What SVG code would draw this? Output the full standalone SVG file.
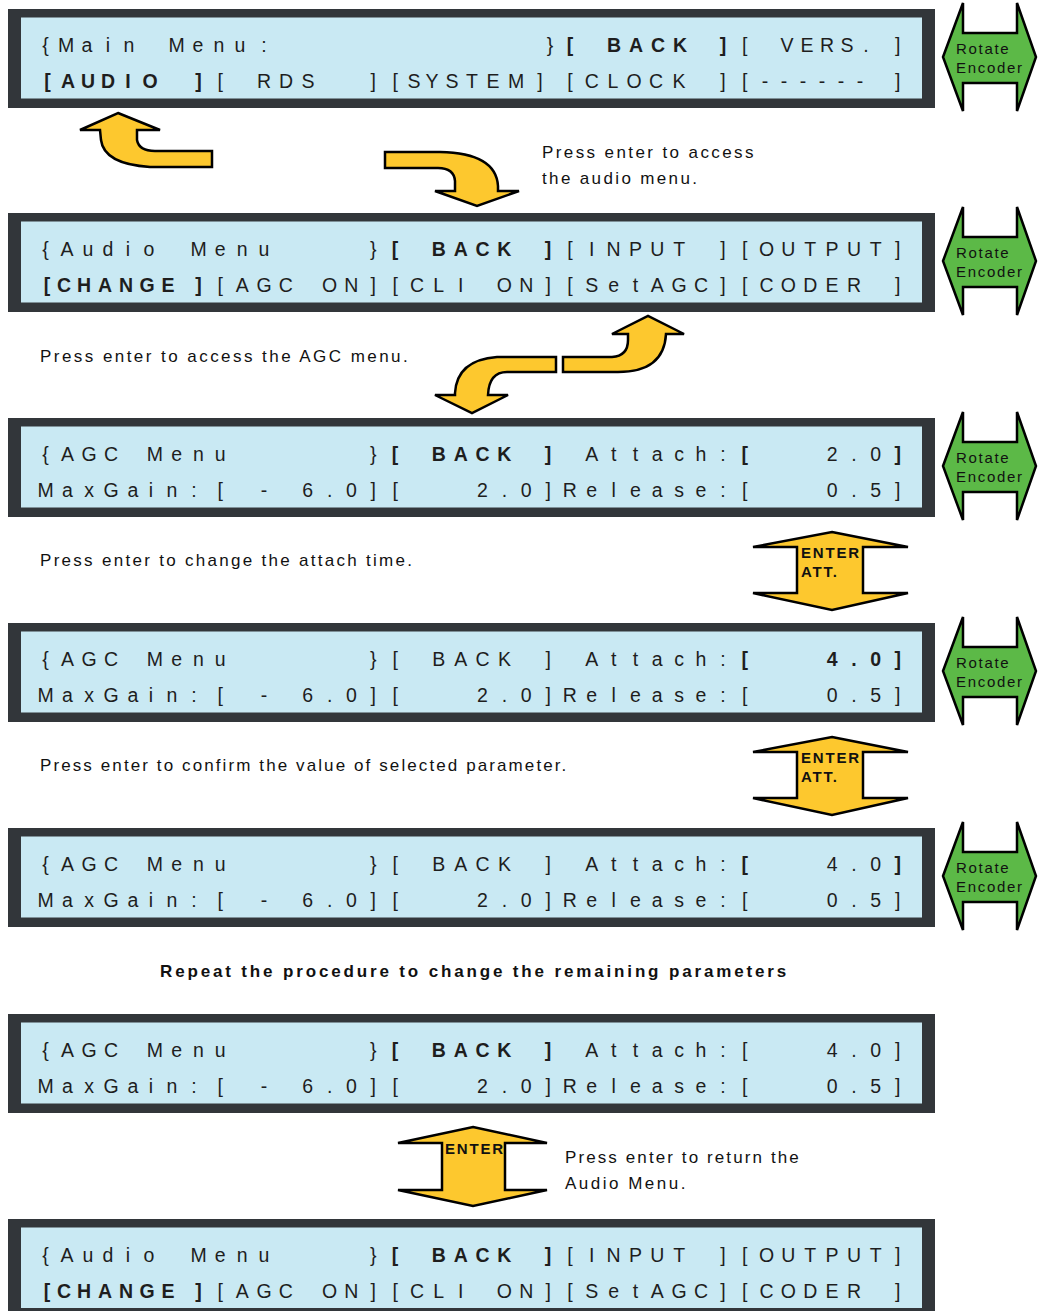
<svg xmlns="http://www.w3.org/2000/svg" xmlns:xlink="http://www.w3.org/1999/xlink" width="1038" height="1311" viewBox="0 0 1038 1311">
<style>
.frame{fill:#32363a}
.screen{fill:#c9e9f3}
.lcd{font-family:"Liberation Sans",Arial,sans-serif;font-size:19.5px;fill:#1e1e1e;text-anchor:middle}
.b{font-weight:bold}
.enc{fill:#5cb947;stroke:#000;stroke-width:2.5;stroke-linejoin:miter}
.enct{font-family:"Liberation Sans",Arial,sans-serif;font-size:15px;letter-spacing:1.7px;fill:#111}
.yel{fill:#fdc82e;stroke:#000;stroke-width:2.5;stroke-linejoin:miter}
.ent{font-family:"Liberation Sans",Arial,sans-serif;font-size:15px;font-weight:bold;letter-spacing:1.8px;fill:#111}
.lbl{font-family:"Liberation Sans",Arial,sans-serif;font-size:17px;fill:#111}
</style>
<defs>
<path id="encShape" class="enc" d="M943,48 L963,-6 L963,24 L1017,24 L1017,-6 L1036,48 L1017,102 L1017,74 L963,74 L963,102 Z"/>
<path id="enterShape" class="yel" d="M832,0 L908,15 L863,15 L863,61 L908,61 L832,78 L753,61 L797,61 L797,15 L753,15 Z"/>
</defs>

<g id="panel1">
<rect class="frame" x="8" y="9" width="927" height="99"/>
<rect class="screen" x="21" y="17.5" width="901" height="81"/>
<text class="lcd" xml:space="preserve" y="52" x="45.5 66 87 108 129 154.8 176.6 198 219 240 264 285.9 307.7 329.6 351.4 373.3 395.1 417 438.8 460.7 482.5 504.4 526.2 550 570 591.8 614 636 658 680 701 723 744.7 766.6 787 807 827 847 866 897.7">{Main Menu:            }<tspan class="b">[ BACK ]</tspan>[ VERS.]</text>
<text class="lcd" xml:space="preserve" y="88" x="47.5 68 88 108 128 150 175 198.5 220.3 242.2 264 286 308 329.6 351.4 373.3 395.1 414 432 452 472 493 516 540 569.9 591.8 613 634 656 679 701 722.9 744.7 765 784 803 822 841 860 897.7"><tspan class="b">[AUDIO ]</tspan>[ RDS  ][SYSTEM][CLOCK ][------]</text>
</g>

<g id="panel2">
<rect class="frame" x="8" y="213" width="927" height="99"/>
<rect class="screen" x="21" y="221.5" width="901" height="81"/>
<text class="lcd" xml:space="preserve" y="256" x="45.5 67 88 108 128 149 176.6 198.5 220.3 242.2 264 285.9 307.7 329.6 351.4 373.3 395.1 417 438.8 460.7 482.5 504.4 526.2 548.1 569.9 591.8 613.6 635.5 657.3 679.2 701 722.9 744.7 766.6 788.4 810.3 832.1 854 875.8 897.7">{Audio Menu    }<tspan class="b">[ BACK ]</tspan>[INPUT ][OUTPUT]</text>
<text class="lcd" xml:space="preserve" y="292" x="47 64 84 105 126 147 168 198.5 220.3 242.2 264 285.9 307.7 329.6 351.4 373.3 395.1 417 438.8 460.7 482.5 504.4 526.2 548.1 569.9 591.8 613.6 635.5 657.3 679.2 701 722.9 744.7 766.6 788.4 810.3 832.1 854 875.8 897.7"><tspan class="b">[CHANGE]</tspan>[AGC ON][CLI ON][SetAGC][CODER ]</text>
</g>

<g id="panel3">
<rect class="frame" x="8" y="418" width="927" height="99"/>
<rect class="screen" x="21" y="426.5" width="901" height="81"/>
<text class="lcd" xml:space="preserve" y="461" x="45.5 67.4 89.2 111.1 132.9 154.8 176.6 198.5 220.3 242.2 264 285.9 307.7 329.6 351.4 373.3 395.1 417 438.8 460.7 482.5 504.4 526.2 548.1 569.9 591.8 613.6 635.5 657.3 679.2 701 722.9 744.7 766.6 788.4 810.3 832.1 854 875.8 897.7">{AGC Menu      }<tspan class="b">[ BACK ]</tspan> Attach:<tspan class="b">[</tspan>   2.0<tspan class="b">]</tspan></text>
<text class="lcd" xml:space="preserve" y="497" x="45.5 67.4 89.2 111.1 132.9 151 172 194 220.3 242.2 264 285.9 307.7 329.6 351.4 373.3 395.1 417 438.8 460.7 482.5 504.4 526.2 548.1 569.9 591.8 613.6 635.5 657.3 679.2 701 722.9 744.7 766.6 788.4 810.3 832.1 854 875.8 897.7">MaxGain:[ - 6.0][   2.0]Release:[   0.5]</text>
</g>

<g id="panel4">
<rect class="frame" x="8" y="623" width="927" height="99"/>
<rect class="screen" x="21" y="631.5" width="901" height="81"/>
<text class="lcd" xml:space="preserve" y="666" x="45.5 67.4 89.2 111.1 132.9 154.8 176.6 198.5 220.3 242.2 264 285.9 307.7 329.6 351.4 373.3 395.1 417 438.8 460.7 482.5 504.4 526.2 548.1 569.9 591.8 613.6 635.5 657.3 679.2 701 722.9 744.7 766.6 788.4 810.3 832.1 854 875.8 897.7">{AGC Menu      }[ BACK ] Attach:<tspan class="b">[   4.0]</tspan></text>
<text class="lcd" xml:space="preserve" y="702" x="45.5 67.4 89.2 111.1 132.9 151 172 194 220.3 242.2 264 285.9 307.7 329.6 351.4 373.3 395.1 417 438.8 460.7 482.5 504.4 526.2 548.1 569.9 591.8 613.6 635.5 657.3 679.2 701 722.9 744.7 766.6 788.4 810.3 832.1 854 875.8 897.7">MaxGain:[ - 6.0][   2.0]Release:[   0.5]</text>
</g>

<g id="panel5">
<rect class="frame" x="8" y="828" width="927" height="99"/>
<rect class="screen" x="21" y="836.5" width="901" height="81"/>
<text class="lcd" xml:space="preserve" y="871" x="45.5 67.4 89.2 111.1 132.9 154.8 176.6 198.5 220.3 242.2 264 285.9 307.7 329.6 351.4 373.3 395.1 417 438.8 460.7 482.5 504.4 526.2 548.1 569.9 591.8 613.6 635.5 657.3 679.2 701 722.9 744.7 766.6 788.4 810.3 832.1 854 875.8 897.7">{AGC Menu      }[ BACK ] Attach:<tspan class="b">[</tspan>   4.0<tspan class="b">]</tspan></text>
<text class="lcd" xml:space="preserve" y="907" x="45.5 67.4 89.2 111.1 132.9 151 172 194 220.3 242.2 264 285.9 307.7 329.6 351.4 373.3 395.1 417 438.8 460.7 482.5 504.4 526.2 548.1 569.9 591.8 613.6 635.5 657.3 679.2 701 722.9 744.7 766.6 788.4 810.3 832.1 854 875.8 897.7">MaxGain:[ - 6.0][   2.0]Release:[   0.5]</text>
</g>

<g id="panel6">
<rect class="frame" x="8" y="1014" width="927" height="99"/>
<rect class="screen" x="21" y="1022.5" width="901" height="81"/>
<text class="lcd" xml:space="preserve" y="1057" x="45.5 67.4 89.2 111.1 132.9 154.8 176.6 198.5 220.3 242.2 264 285.9 307.7 329.6 351.4 373.3 395.1 417 438.8 460.7 482.5 504.4 526.2 548.1 569.9 591.8 613.6 635.5 657.3 679.2 701 722.9 744.7 766.6 788.4 810.3 832.1 854 875.8 897.7">{AGC Menu      }<tspan class="b">[ BACK ]</tspan> Attach:[   4.0]</text>
<text class="lcd" xml:space="preserve" y="1093" x="45.5 67.4 89.2 111.1 132.9 151 172 194 220.3 242.2 264 285.9 307.7 329.6 351.4 373.3 395.1 417 438.8 460.7 482.5 504.4 526.2 548.1 569.9 591.8 613.6 635.5 657.3 679.2 701 722.9 744.7 766.6 788.4 810.3 832.1 854 875.8 897.7">MaxGain:[ - 6.0][   2.0]Release:[   0.5]</text>
</g>

<g id="panel7">
<rect class="frame" x="8" y="1219" width="927" height="99"/>
<rect class="screen" x="21" y="1227.5" width="901" height="80.5"/>
<text class="lcd" xml:space="preserve" y="1262" x="45.5 67 88 108 128 149 176.6 198.5 220.3 242.2 264 285.9 307.7 329.6 351.4 373.3 395.1 417 438.8 460.7 482.5 504.4 526.2 548.1 569.9 591.8 613.6 635.5 657.3 679.2 701 722.9 744.7 766.6 788.4 810.3 832.1 854 875.8 897.7">{Audio Menu    }<tspan class="b">[ BACK ]</tspan>[INPUT ][OUTPUT]</text>
<text class="lcd" xml:space="preserve" y="1298" x="47 64 84 105 126 147 168 198.5 220.3 242.2 264 285.9 307.7 329.6 351.4 373.3 395.1 417 438.8 460.7 482.5 504.4 526.2 548.1 569.9 591.8 613.6 635.5 657.3 679.2 701 722.9 744.7 766.6 788.4 810.3 832.1 854 875.8 897.7"><tspan class="b">[CHANGE]</tspan>[AGC ON][CLI ON][SetAGC][CODER ]</text>
</g>

<g id="encoder1"><use xlink:href="#encShape" href="#encShape" y="9"/><text class="enct" x="956" y="54">Rotate</text><text class="enct" x="956" y="73">Encoder</text></g>
<g id="encoder2"><use xlink:href="#encShape" href="#encShape" y="213"/><text class="enct" x="956" y="258">Rotate</text><text class="enct" x="956" y="277">Encoder</text></g>
<g id="encoder3"><use xlink:href="#encShape" href="#encShape" y="418"/><text class="enct" x="956" y="463">Rotate</text><text class="enct" x="956" y="482">Encoder</text></g>
<g id="encoder4"><use xlink:href="#encShape" href="#encShape" y="623"/><text class="enct" x="956" y="668">Rotate</text><text class="enct" x="956" y="687">Encoder</text></g>
<g id="encoder5"><use xlink:href="#encShape" href="#encShape" y="828"/><text class="enct" x="956" y="873">Rotate</text><text class="enct" x="956" y="892">Encoder</text></g>

<g id="enter1"><use xlink:href="#enterShape" href="#enterShape" y="532"/><text class="ent" x="801" y="558">ENTER</text><text class="ent" x="801" y="577">ATT.</text></g>
<g id="enter2"><use xlink:href="#enterShape" href="#enterShape" y="737"/><text class="ent" x="801" y="763">ENTER</text><text class="ent" x="801" y="782">ATT.</text></g>
<g id="enter3"><path class="yel" d="M473,1127 L547,1143 L505,1143 L505,1190 L547,1190 L473,1206 L398,1190 L442,1190 L442,1143 L398,1143 Z"/><text class="ent" x="445" y="1154">ENTER</text></g>

<g id="connectors">
<path class="yel" d="M118,113 L160,130 L137,130 L137,140 Q139,151 155,151 L212,151 L212,167 L150,167 Q104,164 101,140 L100,130 L80,130 Z"/>
<path class="yel" d="M385,152 L440,152 Q496,153 498,186 L498,191 L519,191 L477,206 L435,191 L455,191 L455,181 Q454,168 438,168 L385,168 Z"/>
<path class="yel" d="M556,357 L497,357 Q457,360 455,393 L455,395 L435,395 L472,413 L508,395 L488,395 Q489,372 507,372 L556,372 Z"/>
<path class="yel" d="M563,357 L612,357 Q628,356 628,340 L628,334 L612,334 L648,316 L684,334 L666,334 Q664,372 618,372 L563,372 Z"/>
</g>

<g id="labels">
<text class="lbl" x="542" y="158" letter-spacing="2.4">Press enter to access</text>
<text class="lbl" x="542" y="184" letter-spacing="2.36">the audio menu.</text>
<text class="lbl" x="40" y="362" letter-spacing="2.45">Press enter to access the AGC menu.</text>
<text class="lbl" x="40" y="566" letter-spacing="2.29">Press enter to change the attach time.</text>
<text class="lbl" x="40" y="771" letter-spacing="2.1">Press enter to confirm the value of selected parameter.</text>
<text class="lbl" x="160" y="977" font-weight="bold" font-size="16.5" letter-spacing="2.85">Repeat the procedure to change the remaining parameters</text>
<text class="lbl" x="565" y="1163" letter-spacing="2.1">Press enter to return the</text>
<text class="lbl" x="565" y="1189" letter-spacing="2.5">Audio Menu.</text>
</g>
</svg>
